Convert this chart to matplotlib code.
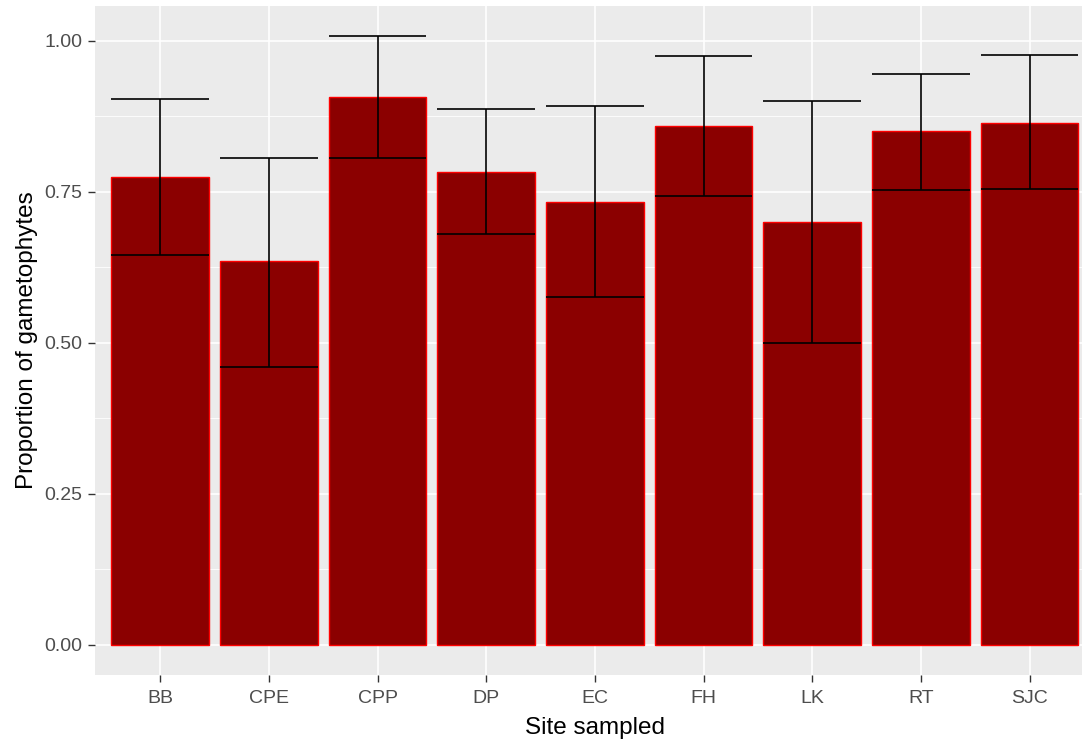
import numpy as np
import matplotlib.pyplot as plt
from matplotlib.ticker import MultipleLocator

plt.rcParams['font.family'] = ['Liberation Sans', 'DejaVu Sans']

sites = ["BB", "CPE", "CPP", "DP", "EC", "FH", "LK", "RT", "SJC"]
proportion = [0.774, 0.635, 0.906, 0.783, 0.733, 0.859, 0.699, 0.850, 0.864]
err_low = [0.645, 0.460, 0.805, 0.679, 0.576, 0.742, 0.500, 0.752, 0.754]
err_high = [0.904, 0.805, 1.007, 0.886, 0.892, 0.974, 0.900, 0.945, 0.976]

fig = plt.figure(figsize=(10.82, 7.46), dpi=100)
ax = fig.add_axes([0.0878, 0.0952, 0.924, 0.8968])
ax.set_facecolor("#EBEBEB")

x = np.arange(len(sites))
ax.bar(x, proportion, width=0.9, color="#8B0000", edgecolor="red",
       linewidth=1.0, zorder=2)

# whiskers across the full bar width
lo = np.array(err_low)
hi = np.array(err_high)
ax.vlines(x, lo, hi, color="black", linewidth=1.2, zorder=3)
ax.hlines(lo, x - 0.45, x + 0.45, color="black", linewidth=1.2, zorder=3)
ax.hlines(hi, x - 0.45, x + 0.45, color="black", linewidth=1.2, zorder=3)

ax.set_xlim(-0.6, len(sites) - 0.4)
ax.set_ylim(-0.0504, 1.0574)
ax.set_xticks(x)
ax.set_xticklabels(sites)
ax.yaxis.set_major_locator(MultipleLocator(0.25))
ax.yaxis.set_minor_locator(MultipleLocator(0.125))
ax.yaxis.set_major_formatter(plt.FuncFormatter(lambda v, p: f"{v:.2f}"))

ax.grid(which="major", color="white", linewidth=1.2, zorder=0)
ax.grid(which="minor", axis="y", color="white", linewidth=0.6, zorder=0)
ax.set_axisbelow(True)
for s in ax.spines.values():
    s.set_visible(False)

ax.tick_params(which="major", colors="#333333", labelcolor="#4D4D4D",
               labelsize=14, length=5, width=1.0, pad=4)
ax.tick_params(axis="x", pad=6)
ax.tick_params(which="minor", length=0)

ax.set_xlabel("Site sampled", fontsize=17.5, color="black", labelpad=7)
ax.set_ylabel("Proportion of gametophytes", fontsize=17.5, color="black", labelpad=5)

fig.savefig("out.png", dpi=100)
